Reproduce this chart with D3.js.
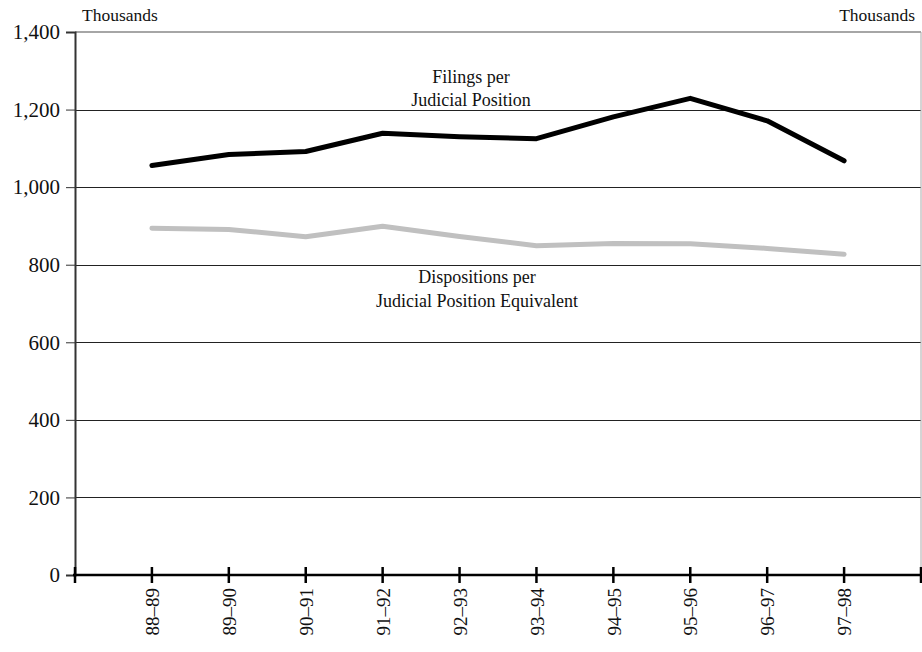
<!DOCTYPE html>
<html>
<head>
<meta charset="utf-8">
<script src="https://cdn.jsdelivr.net/npm/d3@7"></script>
<style>
  html, body { margin: 0; padding: 0; background: #fff; }
  svg { display: block; font-family: "Liberation Serif", "Times New Roman", serif; }
</style>
</head>
<body>
<svg id="chart" width="922" height="652"></svg>
<script>
const categories = ["88–89","89–90","90–91","91–92","92–93","93–94","94–95","95–96","96–97","97–98"];
const filings = [1056, 1084, 1092, 1139, 1130, 1125, 1181, 1229, 1171, 1068];
const dispositions = [894, 891, 872, 899, 873, 849, 855, 854, 842, 827];
const yTicks = [0, 200, 400, 600, 800, 1000, 1200, 1400];

(function () {
const svg = d3.select("#chart");
const mLeft = 75, mRight = 921, mTop = 32, mBottom = 575;
const FONT = "'Liberation Serif', 'Times New Roman', serif";

const x = d3.scalePoint().domain(categories).range([mLeft, mRight]).padding(1);
const y = d3.scaleLinear().domain([0, 1400]).range([mBottom, mTop]);

// gridlines
svg.append("g").selectAll("line").data(yTicks.filter(d => d > 0 && d < 1400)).join("line")
  .attr("x1", mLeft).attr("x2", mRight)
  .attr("y1", d => Math.round(y(d)) + 0.5).attr("y2", d => Math.round(y(d)) + 0.5)
  .attr("stroke", "#222").attr("stroke-width", 1);

// top and right border
svg.append("line").attr("x1", mLeft).attr("x2", mRight).attr("y1", y(1400)).attr("y2", y(1400))
  .attr("stroke", "#888").attr("stroke-width", 1.5);
svg.append("line").attr("x1", mRight).attr("x2", mRight).attr("y1", mTop).attr("y2", mBottom)
  .attr("stroke", "#aaa").attr("stroke-width", 1);

// y axis
const yAxis = d3.axisLeft(y).tickValues(yTicks).tickSize(9).tickPadding(6).tickFormat(d3.format(","));
const gy = svg.append("g").attr("transform", `translate(${mLeft},0)`).call(yAxis);
gy.attr("font-family", FONT).attr("font-size", 21);
gy.select(".domain").attr("stroke", "#333").attr("stroke-width", 2);
gy.selectAll(".tick line").attr("stroke", "#333").attr("stroke-width", 1);
gy.selectAll("text").attr("fill", "#111");

// x axis
const xAxis = d3.axisBottom(x).tickSize(0).tickPadding(0);
const gx = svg.append("g").attr("transform", `translate(0,${mBottom})`).call(xAxis);
gx.attr("font-family", FONT).attr("font-size", 19);
gx.select(".domain").remove();
gx.selectAll(".tick line").remove();
gx.selectAll(".tick text")
  .attr("transform", "rotate(-90)")
  .attr("x", -13).attr("y", 0).attr("dy", "0.35em")
  .attr("text-anchor", "end")
  .attr("fill", "#111");

svg.append("line").attr("x1", mLeft - 2).attr("x2", mRight).attr("y1", mBottom).attr("y2", mBottom)
  .attr("stroke", "#000").attr("stroke-width", 2.5);
const tickXs = [mLeft].concat(categories.map(c => x(c))).concat([mRight]);
svg.append("g").selectAll("line").data(tickXs).join("line")
  .attr("x1", d => d).attr("x2", d => d)
  .attr("y1", mBottom - 8).attr("y2", mBottom + 8)
  .attr("stroke", "#000").attr("stroke-width", 2.5);

// lines
const line = d3.line().x((d, i) => x(categories[i])).y(d => y(d));
svg.append("path").datum(dispositions).attr("d", line)
  .attr("fill", "none").attr("stroke", "#c0c0c0").attr("stroke-width", 5)
  .attr("stroke-linejoin", "round").attr("stroke-linecap", "round");
svg.append("path").datum(filings).attr("d", line)
  .attr("fill", "none").attr("stroke", "#000").attr("stroke-width", 5)
  .attr("stroke-linejoin", "round").attr("stroke-linecap", "round");

// labels
const txt = (s, xx, yy, size, anchor) => svg.append("text").attr("x", xx).attr("y", yy)
  .attr("font-family", FONT)
  .attr("font-size", size).attr("text-anchor", anchor || "middle").attr("fill", "#111").text(s);
txt("Thousands", 82, 21, 17.5, "start");
txt("Thousands", 915, 21, 17.5, "end");
txt("Filings per", 471, 83, 18);
txt("Judicial Position", 471, 106, 18);
txt("Dispositions per", 477, 283, 18);
txt("Judicial Position Equivalent", 477, 307, 18);
})();
</script>
</body>
</html>
